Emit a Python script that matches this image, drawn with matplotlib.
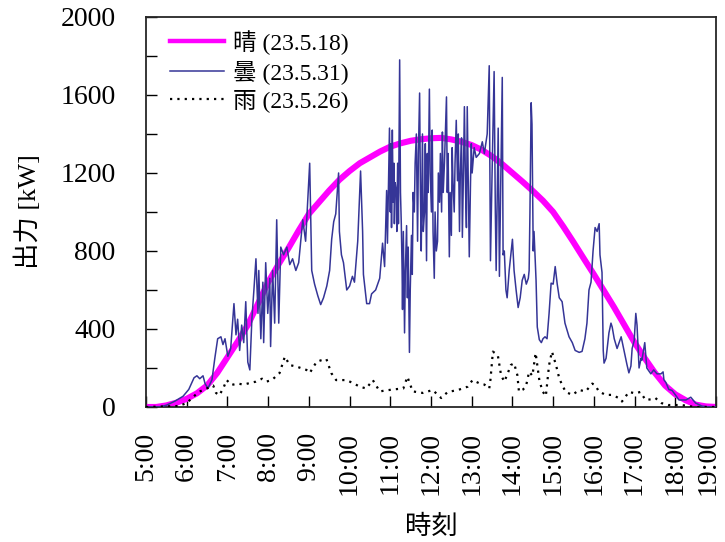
import matplotlib
matplotlib.use('Agg')
import matplotlib.pyplot as plt
from matplotlib.transforms import ScaledTranslation

plt.rcParams['font.family'] = ['Liberation Serif', 'Noto Sans CJK JP']

# time of day [h] and PV output [kW]
sunny_t = [5.0, 5.25, 5.5, 5.75, 6.0, 6.25, 6.5, 6.75,
           7.0, 7.25, 7.5, 7.75, 8.0, 8.25, 8.5, 8.75,
           9.0, 9.25, 9.5, 9.75, 10.0, 10.25, 10.5, 10.75,
           11.0, 11.25, 11.5, 11.75, 12.0, 12.25, 12.5, 12.75,
           13.0, 13.25, 13.5, 13.75, 14.0, 14.25, 14.5, 14.75,
           15.0, 15.25, 15.5, 15.75, 16.0, 16.25, 16.5, 16.75,
           17.0, 17.25, 17.5, 17.75, 18.0, 18.25, 18.5, 18.75, 19.0]
sunny_kw = [0, 0, 8, 22, 42, 70, 110, 175,
            255, 335, 420, 530, 640, 730, 815, 905,
            990, 1050, 1110, 1165, 1210, 1250, 1280, 1310,
            1335, 1352, 1365, 1373, 1378, 1380, 1372, 1360,
            1343, 1318, 1285, 1245, 1200, 1155, 1108, 1058,
            1000, 925, 845, 762, 680, 595, 510, 420,
            330, 250, 175, 110, 65, 35, 12, 3, 0]

cloudy_t = [5.00, 5.34, 5.51, 5.71, 5.91, 6.05, 6.18, 6.25, 6.32, 6.40, 6.45, 6.52, 6.62, 6.69, 6.76, 6.84, 6.89, 6.94,
            7.01, 7.08, 7.16, 7.21, 7.25, 7.30, 7.35, 7.40, 7.45, 7.50, 7.55, 7.60, 7.65, 7.70, 7.75, 7.77, 7.82, 7.87, 7.89, 7.94, 7.99,
            8.04, 8.06, 8.11, 8.16, 8.21, 8.26, 8.31, 8.38, 8.46, 8.53, 8.60, 8.68, 8.75, 8.85, 8.92,
            9.02, 9.07, 9.14, 9.22, 9.29, 9.36, 9.44, 9.51, 9.56, 9.61, 9.66, 9.73, 9.75, 9.80, 9.85, 9.93,
            10.00, 10.07, 10.12, 10.20, 10.27, 10.32, 10.34, 10.42, 10.49, 10.54, 10.64, 10.74, 10.81, 10.86, 10.91, 10.93, 10.98,
            11.00, 11.02, 11.03, 11.05, 11.07, 11.09, 11.10, 11.12, 11.15, 11.16, 11.18, 11.20, 11.23, 11.25, 11.27, 11.29,
            11.30, 11.32, 11.35, 11.37, 11.40, 11.42, 11.44, 11.47, 11.49, 11.52, 11.54, 11.56, 11.59, 11.61, 11.64, 11.66,
            11.67, 11.69, 11.72, 11.74, 11.76, 11.78, 11.79, 11.81, 11.84, 11.86, 11.89, 11.91, 11.93, 11.96, 11.98,
            12.01, 12.03, 12.05, 12.08, 12.10, 12.13, 12.16, 12.18, 12.21, 12.23, 12.26, 12.28, 12.30, 12.33, 12.36, 12.38,
            12.40, 12.42, 12.45, 12.47, 12.50, 12.52, 12.54, 12.57, 12.59, 12.62, 12.65, 12.67, 12.70, 12.72, 12.75, 12.77,
            12.80, 12.82, 12.85, 12.87, 12.89, 12.92, 12.94, 12.97, 12.99,
            13.01, 13.06, 13.11, 13.19, 13.26, 13.31, 13.38, 13.43, 13.46, 13.50, 13.55, 13.58, 13.60, 13.65, 13.68, 13.75, 13.77, 13.80, 13.84, 13.87, 13.92,
            14.00, 14.04, 14.09, 14.14, 14.19, 14.24, 14.29, 14.34, 14.39, 14.41, 14.43, 14.46, 14.48, 14.51, 14.53, 14.58, 14.61, 14.66, 14.71, 14.75, 14.80, 14.85, 14.90, 14.95,
            15.00, 15.05, 15.10, 15.15, 15.22, 15.29, 15.39, 15.47, 15.54, 15.64, 15.71, 15.78, 15.83, 15.88, 15.93, 15.98,
            16.03, 16.08, 16.13, 16.15, 16.20, 16.23, 16.25, 16.30, 16.37, 16.42, 16.45, 16.50, 16.57, 16.67, 16.74, 16.81, 16.86, 16.91, 16.94, 16.99,
            17.03, 17.06, 17.11, 17.16, 17.18, 17.25, 17.30, 17.40, 17.47, 17.55, 17.65, 17.70, 17.72, 17.77, 17.84, 17.92,
            18.01, 18.09, 18.26, 18.38, 18.50, 18.65, 18.82, 19.00]
cloudy_kw = [0, 0, 10, 30, 55, 90, 150, 160, 145, 160, 120, 95, 140, 250, 350, 360, 320, 350,
             260, 300, 530, 370, 450, 290, 420, 330, 540, 230, 190, 450, 600, 760, 480, 700, 350, 640, 330, 740, 480,
             660, 310, 700, 430, 960, 430, 820, 780, 820, 730, 760, 700, 740, 960, 850,
             1250, 700, 630, 570, 525, 560, 620, 700, 860, 950, 990, 1200, 900, 780, 740, 600,
             620, 670, 640, 850, 1210, 900, 680, 530, 530, 580, 600, 660, 840, 720, 1110, 840, 1430,
             1000, 1350, 920, 1420, 1050, 1250, 940, 1150, 1100, 900, 1250, 940, 1780, 1100, 940, 700,
             500, 900, 380, 700, 930, 560, 820, 280, 600, 880, 680, 1100, 1000, 1250, 1400, 1000,
             850, 1300, 1610, 1100, 800, 1200, 1400, 900, 1000, 1350, 750, 1300, 1100, 1630, 1200,
             1000, 1420, 900, 660, 1000, 800, 850, 1200, 1050, 1300, 1000, 1410, 1100, 1250, 1450, 1590,
             1100, 1300, 770, 1100, 880, 1330, 1150, 1000, 1250, 1470, 1160, 1400, 900, 1200, 1380, 870,
             1250, 1540, 1100, 920, 1540, 1100, 770, 1150, 1350,
             1200, 1330, 1280, 1300, 1360, 1300, 1400, 1750, 750, 1200, 1720, 1000, 700, 1430, 670, 1690, 780, 800, 600, 560, 700,
             860, 700, 600, 510, 560, 650, 680, 630, 660, 700, 1000, 1560, 1450, 800, 900, 650, 410, 345, 330, 350, 360, 350, 480, 635,
             630, 720, 630, 560, 540, 430, 360, 330, 290, 280, 285, 350, 430, 600, 640, 800,
             920, 900, 940, 780, 690, 290, 225, 250, 380, 430, 410, 350, 300, 360, 290, 220, 175, 210, 300, 340,
             480, 420, 200, 250, 240, 330, 200, 170, 190, 170, 170, 180, 140, 125, 90, 85,
             60, 36, 36, 50, 20, 5, 0, 0]

rain_t = [5.00, 5.80, 6.00, 6.15, 6.30, 6.55, 6.65, 6.72, 6.80, 6.90, 6.98,
          7.10, 7.25, 7.40, 7.55, 7.70, 7.85, 7.96,
          8.10, 8.28, 8.41, 8.53, 8.70, 8.94,
          9.02, 9.19, 9.31, 9.43, 9.55, 9.67, 9.92,
          10.08, 10.25, 10.41, 10.57, 10.74, 10.90,
          11.07, 11.32, 11.42, 11.55, 11.80,
          12.04, 12.25, 12.41, 12.66, 12.90,
          13.02, 13.20, 13.31, 13.43, 13.46, 13.52, 13.64, 13.72, 13.80, 13.88, 13.96,
          14.04, 14.12, 14.16, 14.25, 14.33, 14.41, 14.49, 14.57, 14.61, 14.66, 14.74, 14.82, 14.90, 14.97,
          15.07, 15.15, 15.22, 15.31, 15.47, 15.64, 15.80, 15.96,
          16.04, 16.12, 16.29, 16.45, 16.61, 16.69, 16.86,
          17.02, 17.14, 17.27, 17.43, 17.51, 17.66, 17.83,
          18.15, 18.48, 19.00]
rain_kw = [0, 5, 20, 50, 78, 100, 110, 72, 60, 97, 138,
           113, 120, 115, 123, 130, 145, 130,
           140, 174, 258, 215, 207, 190,
           174, 232, 240, 246, 174, 138, 138,
           123, 104, 95, 138, 80, 85,
           90, 95, 155, 80, 72,
           87, 46, 77, 87, 104,
           138, 120, 115, 95, 140, 284, 266, 164, 130, 170, 215,
           224, 164, 79, 88, 104, 181, 160, 277, 215, 138, 80, 56, 215, 284,
           215, 147, 113, 77, 62, 87, 80, 120,
           110, 80, 62, 62, 46, 28, 77,
           70, 77, 36, 40, 46, 20, 10,
           10, 0, 0]

series_labels = ['晴 (23.5.18)', '曇 (23.5.31)', '雨 (23.5.26)']
hours = list(range(5, 20))
hour_labels = ['%d:00' % h for h in hours]
kw_ticks = list(range(0, 2001, 200))

fig = plt.figure(figsize=(7.25, 5.42), dpi=100)
ax = fig.add_axes([0.2014, 0.2491, 0.7862, 0.7196])

ax.plot(sunny_t, sunny_kw, color='#ff00ff', lw=4.4, label=series_labels[0], zorder=2)
ax.plot(cloudy_t, cloudy_kw, color='#353597', lw=1.1, label=series_labels[1], zorder=3)
ax.plot(rain_t, rain_kw, color='black', lw=1.6, ls=(0, (1, 2.3)),
        label=series_labels[2], zorder=4)

ax.set_xlim(5, 19)
ax.set_ylim(0, 2000)

ax.set_xticks(hours)
ax.set_xticklabels(hour_labels, rotation=90)
ax.set_yticks(kw_ticks)
ax.set_yticklabels([str(v) if v % 400 == 0 else '' for v in kw_ticks])
ax.tick_params(axis='x', direction='in', length=8, width=1, pad=18, labelsize=20)
ax.tick_params(axis='y', direction='in', length=8, width=1, pad=22, labelsize=20)

# keep the 19:00 label inside the figure
last = ax.get_xticklabels()[-1]
last.set_transform(last.get_transform() + ScaledTranslation(-6 / 72, 0, fig.dpi_scale_trans))

for s in ax.spines.values():
    s.set_linewidth(1.3)
    s.set_color('#262626')

ax.set_xlabel('時刻', fontsize=19, labelpad=14)
ax.set_ylabel('出力 [kW]', fontsize=19, labelpad=14)

leg = ax.legend(loc='upper left', bbox_to_anchor=(0.042, 0.967), frameon=False,
                fontsize=17, handlelength=2.3, handletextpad=0.35,
                labelspacing=0.22, borderpad=0, borderaxespad=0)
leg.get_lines()[0].set_linewidth(3.2)

fig.savefig('out.png', dpi=100)
